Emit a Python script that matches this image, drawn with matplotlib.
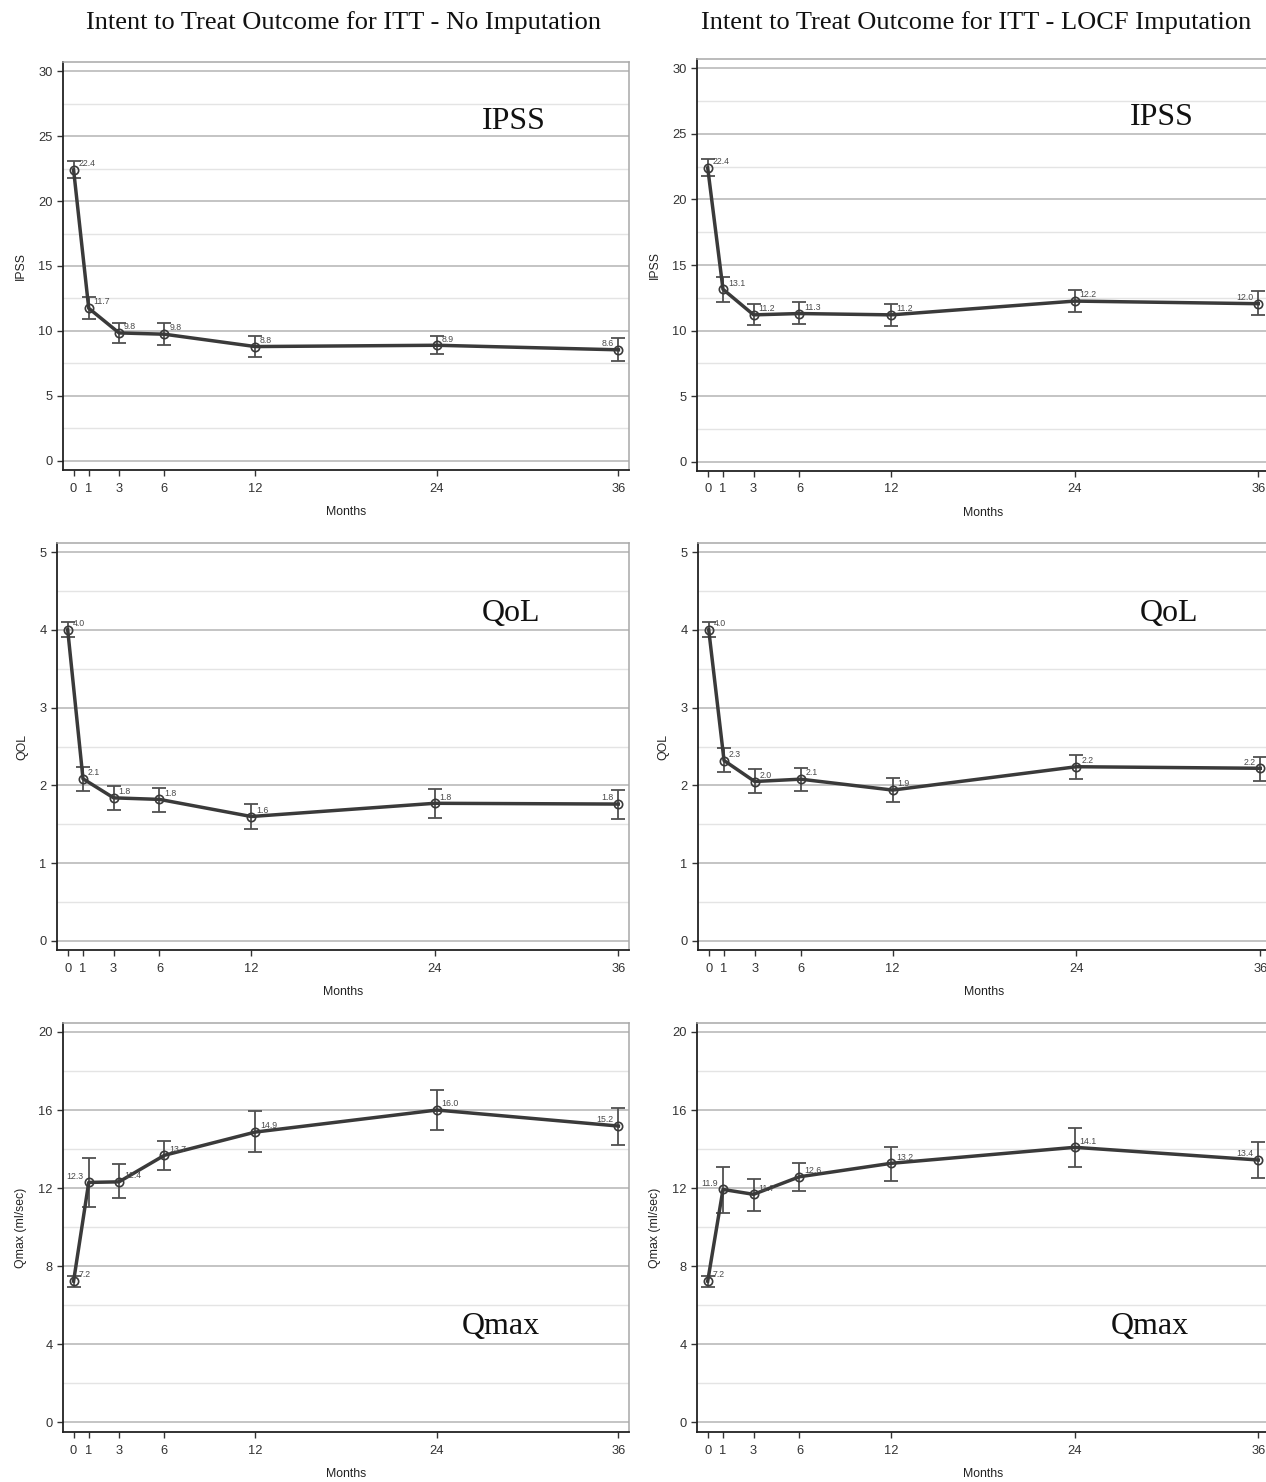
import numpy as np
import matplotlib.pyplot as plt
from matplotlib.ticker import MultipleLocator

months = [0, 1, 3, 6, 12, 24, 36]

# no imputation (left column)
ipss_noimp = [22.4, 11.75, 9.85, 9.75, 8.8, 8.9, 8.55]
ipss_noimp_lo = [21.8, 10.9, 9.1, 8.95, 8.0, 8.2, 7.7]
ipss_noimp_hi = [23.05, 12.65, 10.65, 10.65, 9.6, 9.6, 9.45]
qol_noimp = [4.0, 2.085, 1.84, 1.82, 1.6, 1.77, 1.76]
qol_noimp_lo = [3.91, 1.93, 1.69, 1.66, 1.44, 1.58, 1.57]
qol_noimp_hi = [4.1, 2.24, 1.99, 1.97, 1.76, 1.95, 1.94]
qmax_noimp = [7.23, 12.29, 12.32, 13.68, 14.87, 16.0, 15.18]
qmax_noimp_lo = [6.94, 11.04, 11.47, 12.92, 13.86, 14.97, 14.2]
qmax_noimp_hi = [7.49, 13.55, 13.23, 14.43, 15.93, 17.03, 16.1]

# LOCF imputation (right column)
ipss_locf = [22.4, 13.15, 11.2, 11.3, 11.2, 12.25, 12.05]
ipss_locf_lo = [21.8, 12.2, 10.4, 10.5, 10.35, 11.4, 11.2]
ipss_locf_hi = [23.1, 14.1, 12.0, 12.2, 12.0, 13.1, 13.0]
qol_locf = [4.0, 2.32, 2.05, 2.08, 1.94, 2.24, 2.22]
qol_locf_lo = [3.91, 2.17, 1.9, 1.93, 1.79, 2.08, 2.06]
qol_locf_hi = [4.1, 2.48, 2.21, 2.23, 2.1, 2.39, 2.37]
qmax_locf = [7.23, 11.93, 11.68, 12.58, 13.27, 14.09, 13.44]
qmax_locf_lo = [6.94, 10.73, 10.84, 11.85, 12.36, 13.09, 12.5]
qmax_locf_hi = [7.49, 13.09, 12.46, 13.27, 14.12, 15.1, 14.35]

point_labels = {
    "ipss_noimp": ["22.4", "11.7", "9.8", "9.8", "8.8", "8.9", "8.6"],
    "qol_noimp": ["4.0", "2.1", "1.8", "1.8", "1.6", "1.8", "1.8"],
    "qmax_noimp": ["7.2", "12.3", "12.4", "13.7", "14.9", "16.0", "15.2"],
    "ipss_locf": ["22.4", "13.1", "11.2", "11.3", "11.2", "12.2", "12.0"],
    "qol_locf": ["4.0", "2.3", "2.0", "2.1", "1.9", "2.2", "2.2"],
    "qmax_locf": ["7.2", "11.9", "11.7", "12.6", "13.2", "14.1", "13.4"],
}

titles = ["Intent to Treat Outcome for ITT - No Imputation",
          "Intent to Treat Outcome for ITT - LOCF Imputation"]

W, H = 1266, 1482
fig = plt.figure(figsize=(W / 100, H / 100), dpi=100)
fig.patch.set_facecolor("white")

sans = ["Liberation Sans", "DejaVu Sans"]
serif = ["Liberation Serif", "DejaVu Serif"]

# (left, top, right, bottom) in pixels
boxes = [
    [(63, 62, 629, 470), (57, 543, 629, 950), (63, 1023, 629, 1432)],
    [(697, 59, 1269, 471), (698, 543, 1271, 950), (697, 1023, 1269, 1432)],
]

panels = [
    dict(name="IPSS", ylab="IPSS", ylim=(-0.7, 30.7), major=5, minor=2.5,
         tag=[(0.797, 0.855), (0.813, 0.859)]),
    dict(name="QoL", ylab="QOL", ylim=(-0.116, 5.116), major=1, minor=0.5,
         tag=[(0.794, 0.826), (0.822, 0.826)]),
    dict(name="Qmax", ylab="Qmax (ml/sec)", ylim=(-0.5, 20.46), major=4, minor=2,
         tag=[(0.774, 0.257), (0.792, 0.257)]),
]

series = [
    [(ipss_noimp, ipss_noimp_lo, ipss_noimp_hi, "ipss_noimp"),
     (qol_noimp, qol_noimp_lo, qol_noimp_hi, "qol_noimp"),
     (qmax_noimp, qmax_noimp_lo, qmax_noimp_hi, "qmax_noimp")],
    [(ipss_locf, ipss_locf_lo, ipss_locf_hi, "ipss_locf"),
     (qol_locf, qol_locf_lo, qol_locf_hi, "qol_locf"),
     (qmax_locf, qmax_locf_lo, qmax_locf_hi, "qmax_locf")],
]

# which side each value label sits on
label_side = {
    "qmax_noimp": ["r", "l", "r", "r", "r", "r", "l"],
    "qmax_locf": ["r", "l", "r", "r", "r", "r", "l"],
}

for c in range(2):
    for r in range(3):
        l, t, rr, b = boxes[c][r]
        ax = fig.add_axes([l / W, 1 - b / H, (rr - l) / W, (b - t) / H])
        p = panels[r]
        y, lo, hi, key = series[c][r]
        y = np.array(y)
        err = [y - np.array(lo), np.array(hi) - y]

        ax.errorbar(months, y, yerr=err, fmt="none", ecolor="#505050",
                    elinewidth=1.3, capsize=4.8, capthick=1.3, zorder=3)
        ax.plot(months, y, color="#3a3a3a", lw=2.5, zorder=4)
        ax.plot(months, y, "o", ms=6, mfc="none", mec="#3a3a3a", mew=1.2, zorder=5)

        sides = label_side.get(key, ["r"] * 6 + ["l"])
        for xm, yv, txt, s in zip(months, y, point_labels[key], sides):
            dx = 3.5 if s == "r" else -3.5
            ax.annotate(txt, (xm, yv), xytext=(dx, 4.5), textcoords="offset points",
                        ha="left" if s == "r" else "right", va="center",
                        fontsize=6.3, color="#4a4a4a", family=sans, zorder=6)

        ax.set_xlim(-0.7, 36.7)
        ax.set_ylim(*p["ylim"])
        ax.set_xticks(months)
        ax.yaxis.set_major_locator(MultipleLocator(p["major"]))
        ax.yaxis.set_minor_locator(MultipleLocator(p["minor"]))
        ax.grid(True, which="major", axis="y", color="#b4b4b4", lw=1.1, zorder=0)
        ax.grid(True, which="minor", axis="y", color="#e4e4e4", lw=1.0, zorder=0)
        ax.set_axisbelow(True)
        ax.tick_params(axis="both", which="major", direction="out", length=4,
                       width=1, color="#333333", labelsize=9.3, labelcolor="#333333")
        ax.tick_params(axis="x", which="major", pad=5)
        ax.tick_params(axis="y", which="minor", length=0)
        for lab in ax.get_xticklabels() + ax.get_yticklabels():
            lab.set_family(sans)

        ax.spines["left"].set_color("#222222")
        ax.spines["bottom"].set_color("#222222")
        ax.spines["left"].set_linewidth(1.3)
        ax.spines["bottom"].set_linewidth(1.3)
        ax.spines["top"].set_color("#a8a8a8")
        ax.spines["right"].set_color("#a8a8a8")
        ax.spines["top"].set_linewidth(1.1)
        ax.spines["right"].set_linewidth(1.1)

        ax.set_xlabel("Months", fontsize=8.8, family=sans, color="#222222", labelpad=8)
        ax.set_ylabel(p["ylab"], fontsize=8.8, family=sans, color="#222222", labelpad=8)

        tx, ty = p["tag"][c]
        ax.text(tx, ty, p["name"], transform=ax.transAxes, ha="center", va="center",
                fontsize=23, family=serif, color="#111111", zorder=6)

fig.text(344 / W, 1 - 23 / H, titles[0], ha="center", va="center",
         fontsize=19, family=serif, color="#111111")
fig.text(976 / W, 1 - 23 / H, titles[1], ha="center", va="center",
         fontsize=19, family=serif, color="#111111")

fig.savefig("out.png", dpi=100, facecolor="white")
